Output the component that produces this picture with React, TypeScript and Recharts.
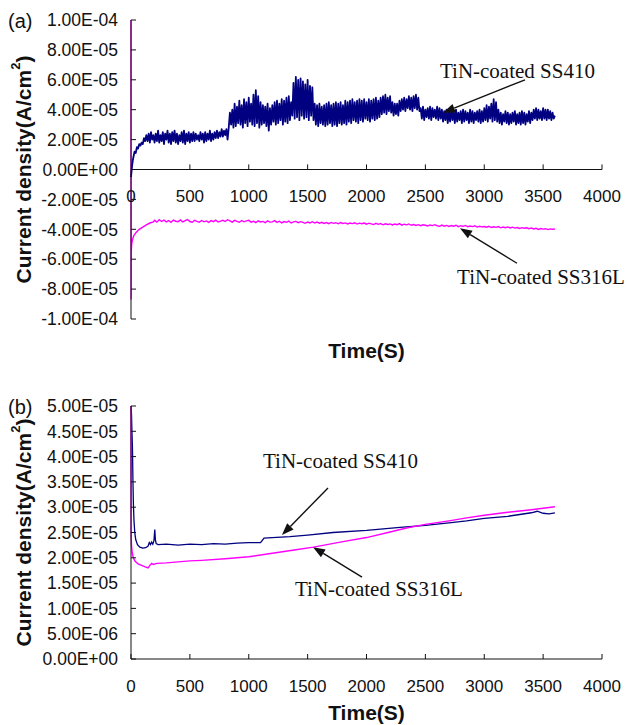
import React from 'react';
import { LineChart, Line, XAxis, YAxis, ReferenceLine, ReferenceDot } from 'recharts';

const SANS = "'Liberation Sans', Arial, sans-serif";
const SERIF = "'Liberation Serif', 'Times New Roman', serif";
const NAVY = '#000080';
const MAGENTA = '#ff00ff';
const INK = '#111111';

// current densities are written in µA/cm² (1 = 1.00E-06 A/cm²)
const X_TICKS = [0, 500, 1000, 1500, 2000, 2500, 3000, 3500, 4000];
const Y_TICKS_A = [-100, -80, -60, -40, -20, 0, 20, 40, 60, 80, 100];
const Y_TICKS_B = [0, 5, 10, 15, 20, 25, 30, 35, 40, 45, 50];

// (a) TiN-coated SS410: first seconds, then one reading every 10 s from 130 s
const A410_HEAD_T = [0, 5, 10, 15, 20, 30, 40, 50, 60, 70, 80, 90, 100, 110, 120];
const A410_HEAD_V = [-5, -1, 3, 6, 8, 12, 11, 15, 14, 17, 16, 18, 17, 21, 19];
const A410_FROM = 130;
const A410_STEP = 10;
const A410_V = [
  23, 19, 24, 18, 25, 20, 23, 18, 24, 19, 26, 18, 23, 19, 25, 17, 24, 20, 26, 18,
  24, 17, 25, 19, 26, 18, 24, 17, 23, 19, 25, 18, 26, 17, 24, 19, 25, 18, 24, 19,
  25, 19, 24, 20, 23, 19, 25, 20, 24, 18, 25, 19, 24, 20, 26, 19, 24, 20, 25, 21,
  26, 21, 25, 22, 27, 22, 26, 23, 27, 20, 28, 38, 30, 40, 28, 44, 29, 42, 31, 46,
  30, 43, 28, 47, 31, 45, 29, 48, 32, 44, 30, 50, 29, 53, 31, 49, 28, 45, 30, 43,
  31, 42, 29, 44, 26, 41, 30, 43, 32, 45, 30, 46, 31, 44, 33, 47, 30, 46, 32, 48,
  31, 49, 33, 45, 36, 58, 34, 62, 35, 60, 33, 61, 36, 59, 34, 57, 35, 60, 33, 56,
  36, 55, 33, 44, 30, 43, 29, 44, 31, 42, 30, 43, 29, 44, 30, 45, 31, 43, 29, 44,
  30, 45, 29, 44, 31, 45, 30, 43, 31, 46, 30, 45, 32, 46, 31, 47, 33, 45, 32, 46,
  31, 47, 33, 46, 32, 47, 34, 45, 33, 47, 32, 46, 34, 47, 33, 48, 34, 46, 35, 48,
  37, 49, 38, 50, 37, 48, 39, 49, 38, 45, 36, 44, 37, 44, 36, 46, 39, 47, 40, 48,
  39, 47, 41, 49, 40, 48, 39, 49, 41, 50, 40, 48, 39, 41, 34, 42, 33, 40, 35, 41,
  34, 42, 33, 41, 35, 40, 34, 42, 33, 41, 34, 40, 32, 39, 33, 40, 31, 39, 32, 40,
  33, 39, 31, 40, 32, 38, 33, 39, 31, 40, 32, 39, 33, 38, 31, 40, 32, 39, 31, 38,
  33, 39, 32, 40, 31, 39, 32, 41, 33, 43, 32, 42, 34, 44, 32, 47, 33, 45, 32, 40,
  31, 38, 30, 37, 32, 39, 31, 38, 30, 37, 31, 38, 32, 39, 30, 37, 31, 38, 30, 39,
  31, 38, 30, 37, 32, 39, 31, 38, 33, 40, 34, 41, 33, 40, 34, 39, 33, 41, 34, 40,
  33, 40, 34, 39, 33, 38, 34, 36,
];

// (a) TiN-coated SS316L: first seconds, then one reading every 20 s from 200 s
const A316_HEAD_T = [0, 1, 2, 6, 12, 25, 45, 70, 100, 130, 160, 190];
const A316_HEAD_V = [100, -87, -55, -50, -47, -44, -42, -40, -38.5, -37, -35.8, -35];
const A316_FROM = 200;
const A316_STEP = 20;
const A316_V = [
  -34.0, -35.2, -33.6, -34.8, -33.9, -35.0, -34.1, -35.3, -33.8, -34.6,
  -34.9, -33.7, -35.1, -34.2, -33.5, -34.8, -35.3, -34.0, -34.7, -35.2,
  -34.1, -35.0, -34.4, -35.4, -34.2, -34.9, -33.9, -35.1, -34.5, -34.0,
  -34.8, -33.6, -34.3, -35.2, -34.0, -34.7, -35.3, -34.1, -35.0, -34.4,
  -34.0, -35.2, -34.6, -35.5, -34.3, -35.1, -34.7, -35.6, -34.4, -35.2,
  -35.0, -34.2, -35.4, -34.6, -35.7, -34.8, -35.3, -34.5, -35.8, -35.0,
  -34.7, -35.6, -34.9, -35.4, -36.0, -35.1, -35.7, -34.9, -35.8, -35.2,
  -35.9, -35.3, -36.1, -35.5, -36.2, -35.4, -36.0, -35.6, -36.3, -35.5,
  -36.1, -35.7, -36.4, -35.8, -36.2, -35.6, -36.5, -35.9, -36.3, -35.8,
  -36.6, -35.9, -36.4, -36.8, -36.0, -36.7, -36.2, -37.0, -36.3, -36.8,
  -36.4, -37.1, -36.5, -36.9, -36.2, -37.2, -36.6, -37.0, -36.4, -37.3,
  -36.8, -37.4, -36.9, -37.6, -37.0, -37.3, -37.8, -37.1, -37.5, -36.9,
  -37.6, -38.0, -37.2, -37.9, -37.4, -38.1, -37.5, -37.9, -37.3, -38.2,
  -37.6, -38.0, -37.4, -38.3, -37.8, -38.2, -37.7, -38.5, -38.0, -38.4,
  -38.1, -38.6, -38.0, -38.8, -38.3, -38.7, -38.2, -39.0, -38.5, -38.9,
  -38.4, -39.1, -38.6, -39.2, -38.8, -39.4, -38.9, -39.3, -39.0, -39.6,
  -39.2, -39.8, -39.3, -40.1, -39.5, -39.9, -39.6, -40.2, -39.7, -40.0,
  -39.8,
];

// (b) TiN-coated SS410
const B410_T = [
  0, 4, 8, 12, 16, 20, 25, 32, 40, 55, 75, 100, 125, 145, 155, 165, 175, 185, 195, 202,
  207, 214, 230, 300, 400, 500, 600, 700, 800, 900, 1000, 1100, 1130, 1200, 1350, 1500,
  1715, 2000, 2285, 2500, 2700, 2850, 3000, 3200, 3400, 3450, 3500, 3550, 3600,
];
const B410_V = [
  50, 48.5, 45, 42, 36, 31, 27.5, 25, 23.6, 22.6, 22.1, 21.9, 22.0, 22.3, 23.0, 22.6, 23.1, 22.7, 23.4, 25.6,
  23.6, 22.8, 22.6, 22.7, 22.5, 22.7, 22.6, 22.8, 22.7, 22.9, 23.0, 23.0, 23.9, 24.0, 24.2, 24.5,
  25.0, 25.4, 26.0, 26.4, 26.9, 27.3, 27.8, 28.2, 28.9, 29.2, 28.8, 28.7, 28.9,
];

// (b) TiN-coated SS316L
const B316_T = [
  0, 1, 4, 10, 20, 35, 60, 90, 120, 145, 160, 175, 190, 220, 300, 400, 500, 600, 800, 1000,
  1200, 1400, 1550, 1800, 2000, 2200, 2340, 2500, 2700, 2850, 3000, 3200, 3400, 3500, 3600,
];
const B316_V = [
  50, 25, 22.5, 21, 20, 19.3, 18.8, 18.5, 18.2, 18.0, 18.5, 18.9, 18.7, 18.9, 19.0, 19.2, 19.4, 19.5, 19.8, 20.2,
  20.9, 21.6, 22.1, 23.2, 24.0, 25.1, 25.9, 26.6, 27.3, 27.9, 28.4, 29.0, 29.5, 29.8, 30.1,
];

// annotation anchors in data units: text start, arrow tail, arrow head
const NOTES_A = [
  { text: 'TiN-coated SS410', at: [2624, 66], tail: [3346, 60], head: [2650, 38] },
  { text: 'TiN-coated SS316L', at: [2769, -71.3], tail: [3278, -62.7], head: [2794, -39.3] },
];
const NOTES_B = [
  { text: 'TiN-coated SS410', at: [1121, 39.3], tail: [1673, 33.8], head: [1282, 24.5] },
  { text: 'TiN-coated SS316L', at: [1393, 14.0], tail: [1962, 16.2], head: [1546, 22.1] },
];

const pairs = (ts: number[], vs: number[]) => ts.map((t, i) => ({ t, v: vs[i] }));
const grid = (from: number, step: number, vs: number[]) => vs.map((v, i) => ({ t: from + i * step, v }));

const a410 = [...pairs(A410_HEAD_T, A410_HEAD_V), ...grid(A410_FROM, A410_STEP, A410_V)];
const a316 = [...pairs(A316_HEAD_T, A316_HEAD_V), ...grid(A316_FROM, A316_STEP, A316_V)];
const b410 = pairs(B410_T, B410_V);
const b316 = pairs(B316_T, B316_V);

function fmtSci(v: number): string {
  if (v === 0) return '0.00E+00';
  const a = v * 1e-6;
  const exp = Math.floor(Math.log10(Math.abs(a)) + 1e-9);
  const m = a / Math.pow(10, exp);
  const sign = exp < 0 ? '-' : '+';
  return `${m.toFixed(2)}E${sign}${String(Math.abs(exp)).padStart(2, '0')}`;
}

function YTitle({ viewBox, tag }: any) {
  if (!viewBox) return null;
  const { x, y, height } = viewBox;
  const cx = x + 23;
  const cy = y + height / 2;
  return (
    <g>
      <text x={x + 8} y={y + 8} fontSize={20} fontFamily={SANS} fill={INK}>({tag})</text>
      <text
        x={cx}
        y={cy}
        transform={`rotate(-90 ${cx} ${cy})`}
        textAnchor="middle"
        dominantBaseline="central"
        fontSize={21}
        fontWeight="bold"
        fontFamily={SANS}
        fill={INK}
      >
        Current density(A/cm<tspan dy={-8} fontSize={13}>2</tspan><tspan dy={8}>)</tspan>
      </text>
    </g>
  );
}

function XTitle({ viewBox, dy }: any) {
  if (!viewBox) return null;
  const { x, y, width } = viewBox;
  return (
    <text
      x={x + width / 2}
      y={y + dy}
      textAnchor="middle"
      dominantBaseline="central"
      fontSize={21}
      fontWeight="bold"
      fontFamily={SANS}
      fill={INK}
    >
      Time(S)
    </text>
  );
}

function Arrow(props: any) {
  const { x1, y1, x2, y2 } = props;
  const ang = Math.atan2(y2 - y1, x2 - x1);
  const len = 12;
  const half = 4.5;
  const bx = x2 - len * Math.cos(ang);
  const by = y2 - len * Math.sin(ang);
  const px = -Math.sin(ang) * half;
  const py = Math.cos(ang) * half;
  return (
    <g>
      <line x1={x1} y1={y1} x2={bx} y2={by} stroke={INK} strokeWidth={1.4} />
      <polygon points={`${x2},${y2} ${bx + px},${by + py} ${bx - px},${by - py}`} fill={INK} />
    </g>
  );
}

function notes(list: typeof NOTES_A, id: string) {
  return list.flatMap((n, i) => [
    <ReferenceDot
      key={`${id}-t${i}`}
      x={n.at[0]}
      y={n.at[1]}
      r={0}
      fill="none"
      stroke="none"
      ifOverflow="visible"
      label={{ value: n.text, position: 'right', offset: 0, fontSize: 21, fontFamily: SERIF, fill: INK }}
    />,
    <ReferenceLine
      key={`${id}-a${i}`}
      segment={[{ x: n.tail[0], y: n.tail[1] }, { x: n.head[0], y: n.head[1] }]}
      ifOverflow="visible"
      shape={Arrow}
    />,
  ]);
}

const tickFont = { fontSize: 17, fill: INK, fontFamily: SANS };
const yTickFont = { fontSize: 17.5, fill: INK, fontFamily: SANS };

function ChartA() {
  return (
    <LineChart width={627} height={362} margin={{ top: 20, right: 25, bottom: 0, left: 0 }}>
      <XAxis
        dataKey="t"
        type="number"
        domain={[0, 4000]}
        ticks={X_TICKS}
        height={43}
        axisLine={false}
        tickLine={false}
        tick={false}
        label={<XTitle dy={31} />}
      />
      <YAxis
        type="number"
        domain={[-100, 100]}
        ticks={Y_TICKS_A}
        interval={0}
        width={131}
        tickFormatter={fmtSci}
        tickSize={-5}
        tickMargin={18}
        axisLine={{ stroke: INK }}
        tickLine={{ stroke: INK }}
        tick={yTickFont}
        label={<YTitle tag="a" />}
      />
      <ReferenceLine y={0} stroke={INK} strokeWidth={1} />
      {X_TICKS.filter((t) => t > 0).map((t) => (
        <ReferenceLine key={`tk${t}`} segment={[{ x: t, y: 0 }, { x: t, y: 3.4 }]} stroke={INK} />
      ))}
      {X_TICKS.map((t) => (
        <ReferenceDot
          key={`tl${t}`}
          x={t}
          y={0}
          r={0}
          fill="none"
          stroke="none"
          ifOverflow="visible"
          label={{ value: String(t), position: 'bottom', offset: 20, ...tickFont }}
        />
      ))}
      <Line data={a316} dataKey="v" type="linear" stroke={MAGENTA} strokeWidth={1.4} dot={false} isAnimationActive={false} />
      <Line data={a410} dataKey="v" type="linear" stroke={NAVY} strokeWidth={1.8} strokeLinejoin="round" dot={false} isAnimationActive={false} />
      {notes(NOTES_A, 'a')}
    </LineChart>
  );
}

function ChartB() {
  return (
    <LineChart width={627} height={363} margin={{ top: 44, right: 25, bottom: 0, left: 0 }}>
      <XAxis
        dataKey="t"
        type="number"
        domain={[0, 4000]}
        ticks={X_TICKS}
        interval={0}
        height={66}
        tickSize={-5}
        tickMargin={26}
        axisLine={{ stroke: INK }}
        tickLine={{ stroke: INK }}
        tick={tickFont}
        label={<XTitle dy={53} />}
      />
      <YAxis
        type="number"
        domain={[0, 50]}
        ticks={Y_TICKS_B}
        interval={0}
        width={131}
        tickFormatter={fmtSci}
        tickSize={-5}
        tickMargin={18}
        axisLine={{ stroke: INK }}
        tickLine={{ stroke: INK }}
        tick={yTickFont}
        label={<YTitle tag="b" />}
      />
      <Line data={b410} dataKey="v" type="linear" stroke={NAVY} strokeWidth={1.3} dot={false} isAnimationActive={false} />
      <Line data={b316} dataKey="v" type="linear" stroke={MAGENTA} strokeWidth={1.4} dot={false} isAnimationActive={false} />
      {notes(NOTES_B, 'b')}
    </LineChart>
  );
}

export default function App() {
  return (
    <div style={{ position: 'absolute', left: 0, top: 0, width: 627, height: 725, background: '#fff' }}>
      <ChartA />
      <ChartB />
    </div>
  );
}
